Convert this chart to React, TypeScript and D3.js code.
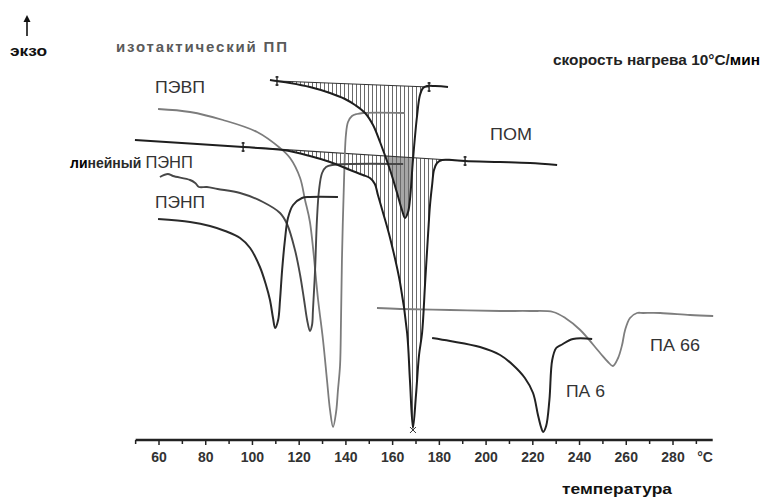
import React from 'react';
import * as d3 from 'd3';

const W = 762;
const H = 497;

type Pt = [number, number]; // [temperature °C, heat flow a.u.]

// DSC melting curves, heating rate 10 °C/min
const hdpe: Pt[] = [
  [59.6, 331], [73.3, 328], [87.4, 320], [102.0, 308], [111.8, 292], [116.1, 282],
  [120.4, 262], [122.5, 240], [124.6, 218], [128.1, 140], [130.2, 100], [131.9, 60],
  [133.2, 30], [134.5, 13], [135.8, 28], [136.6, 50], [137.5, 75], [137.9, 120],
  [138.3, 180], [139.2, 260], [140.0, 305], [140.9, 318], [142.6, 324], [144.8, 326],
  [147.3, 327], [165.3, 327],
];

const ldpe: Pt[] = [
  [59.6, 221], [73.3, 218], [81.8, 214], [88.3, 209], [94.7, 202], [99.0, 192],
  [103.2, 173], [105.8, 155], [107.5, 140], [108.8, 122], [109.7, 112], [111.0, 120],
  [111.8, 140], [112.7, 170], [113.9, 200], [115.2, 222], [117.4, 235], [121.2, 242],
  [124.6, 243], [136.6, 243],
];

const lldpe: Pt[] = [
  [60.4, 263], [63.8, 266], [66.0, 264], [73.3, 260], [75.5, 257], [77.1, 253],
  [80.5, 253], [85.1, 251], [94.7, 247], [104.5, 238], [111.8, 227], [114.8, 216],
  [118.2, 190], [120.4, 165], [122.1, 140], [123.4, 120], [124.6, 109], [125.5, 115],
  [125.9, 130], [126.8, 170], [127.6, 220], [128.5, 250], [129.8, 267], [131.5, 273],
  [134.1, 275], [164.5, 276],
];

const ipp: Pt[] = [
  [107.5, 360], [110.5, 359], [116.1, 357], [124.6, 353], [133.2, 347], [139.6, 341],
  [143.9, 335], [148.2, 327], [151.6, 315], [154.6, 298], [158.9, 270], [161.9, 247],
  [164.0, 230], [165.3, 222], [166.6, 228], [167.4, 240], [168.7, 280], [170.4, 323],
  [171.7, 345], [173.0, 352], [174.7, 354], [178.2, 354], [183.7, 353],
];

const pom: Pt[] = [
  [49.7, 300], [96.0, 293], [113.1, 290], [124.6, 284], [133.2, 278], [141.8, 270],
  [147.3, 265], [150.3, 262], [152.4, 256], [153.7, 245], [155.8, 228], [158.9, 202],
  [163.2, 157], [166.2, 107], [167.4, 60], [168.7, 12], [170.0, 45], [171.3, 85],
  [172.6, 107], [173.9, 157], [175.2, 207], [176.0, 235], [176.9, 255], [177.7, 270],
  [179.0, 277], [181.2, 280], [185.4, 280], [191.0, 279], [206.0, 278], [218.8, 277],
  [230.4, 275],
];

const pa66: Pt[] = [
  [153.3, 132], [163.2, 131], [184.6, 130], [206.0, 129], [218.8, 129], [228.7, 128],
  [233.9, 122], [240.3, 110], [248.8, 87], [252.2, 78], [254.3, 74], [256.5, 82],
  [258.2, 95], [259.5, 110], [261.6, 122], [264.6, 127], [267.2, 127], [274.5, 127],
  [287.3, 125], [297.2, 124],
];

const pa6: Pt[] = [
  [176.9, 102], [184.6, 99], [197.4, 93], [206.0, 85], [211.5, 75], [216.6, 62],
  [220.1, 47], [222.2, 25], [223.5, 13], [224.4, 8], [225.7, 14], [227.1, 40],
  [228.3, 80], [230.0, 92], [232.1, 95], [237.2, 101], [245.4, 101],
];

// Integration baselines (between the boundary markers)
const ippBaseline: Pt[] = [[110.5, 359], [175.6, 353]];
const pomBaseline: Pt[] = [[96.0, 293], [191.0, 279]];
const pomPeak: Pt = [168.7, 12];

const majorTicks = d3.range(60, 281, 20);
const minorTicks = d3.range(50, 296, 10);

const x = d3.scaleLinear().domain([60, 280]).range([159, 673]);
const y = d3.scaleLinear().domain([0, 440]).range([440, 0]);

const line = d3
  .line<Pt>()
  .x((d) => x(d[0]))
  .y((d) => y(d[1]))
  .curve(d3.curveCatmullRom.alpha(0.5));

const straight = d3
  .line<Pt>()
  .x((d) => x(d[0]))
  .y((d) => y(d[1]));

function valueAt(data: Pt[], t: number): number {
  for (let i = 0; i < data.length - 1; i++) {
    const [t0, v0] = data[i];
    const [t1, v1] = data[i + 1];
    if (t >= t0 && t <= t1) return v0 + ((t - t0) / (t1 - t0)) * (v1 - v0);
  }
  return data[data.length - 1][1];
}

// closed region between a curve and its straight baseline
function peakArea(data: Pt[], base: Pt[]): string {
  const [a, b] = [base[0][0], base[1][0]];
  const pts: Pt[] = [[a, valueAt(data, a)]];
  data.forEach((d) => {
    if (d[0] > a && d[0] < b) pts.push(d);
  });
  pts.push([b, valueAt(data, b)]);
  return (
    line(pts) +
    `L${x(base[1][0])},${y(base[1][1])}L${x(base[0][0])},${y(base[0][1])}Z`
  );
}

const FONT = "'Liberation Sans', Arial, Helvetica, sans-serif";

function Marker({ t, v }: { t: number; v: number }) {
  const cx = x(t);
  const cy = y(v);
  return (
    <g stroke="#222" strokeWidth={1.4}>
      <line x1={cx} x2={cx} y1={cy - 5} y2={cy + 5} />
      <line x1={cx - 1.5} x2={cx + 1.5} y1={cy - 4} y2={cy - 4} />
      <line x1={cx - 1.5} x2={cx + 1.5} y1={cy + 4} y2={cy + 4} />
    </g>
  );
}

export default function App() {
  const ppArea = peakArea(ipp, ippBaseline);
  const pomArea = peakArea(pom, pomBaseline);
  const axisY = y(0);
  const xStart = x(50);
  const xEnd = x(297);

  return (
    <svg
      width={W}
      height={H}
      viewBox={`0 0 ${W} ${H}`}
      style={{ position: 'absolute', left: 0, top: 0, background: '#fff' }}
      fontFamily={FONT}
    >
      <defs>
        <pattern id="hatch" width={4} height={4} patternUnits="userSpaceOnUse">
          <line x1={0.5} x2={0.5} y1={0} y2={4} stroke="#6a6a6a" strokeWidth={1} />
        </pattern>
        <clipPath id="pomClip">
          <path d={pomArea} />
        </clipPath>
      </defs>

      {/* hatched melting areas; the overlap of both peaks is shaded */}
      <path d={ppArea} fill="#a6a6a6" clipPath="url(#pomClip)" />
      <path d={pomArea} fill="url(#hatch)" />
      <path d={ppArea} fill="url(#hatch)" />

      {/* baselines */}
      <path d={straight(ippBaseline) ?? ''} fill="none" stroke="#333" strokeWidth={1.2} />
      <path d={straight(pomBaseline) ?? ''} fill="none" stroke="#333" strokeWidth={1.2} />

      {/* curves */}
      <path d={line(hdpe) ?? ''} fill="none" stroke="#7c7c7c" strokeWidth={1.8} />
      <path d={line(lldpe) ?? ''} fill="none" stroke="#474747" strokeWidth={1.9} />
      <path d={line(ldpe) ?? ''} fill="none" stroke="#2a2a2a" strokeWidth={2} />
      <path d={line(pa66) ?? ''} fill="none" stroke="#7e7e7e" strokeWidth={1.8} />
      <path d={line(pa6) ?? ''} fill="none" stroke="#222" strokeWidth={2} />
      <path d={line(pom) ?? ''} fill="none" stroke="#1e1e1e" strokeWidth={2} />
      <path d={line(ipp) ?? ''} fill="none" stroke="#1e1e1e" strokeWidth={2} />

      {/* boundary markers */}
      {ippBaseline.map((d, i) => (
        <Marker key={`pp${i}`} t={d[0]} v={d[1]} />
      ))}
      {pomBaseline.map((d, i) => (
        <Marker key={`pom${i}`} t={d[0]} v={d[1]} />
      ))}
      <g stroke="#333" strokeWidth={1}>
        <line x1={x(pomPeak[0]) - 3} x2={x(pomPeak[0]) + 3} y1={y(pomPeak[1]) - 1} y2={y(pomPeak[1]) + 5} />
        <line x1={x(pomPeak[0]) - 3} x2={x(pomPeak[0]) + 3} y1={y(pomPeak[1]) + 5} y2={y(pomPeak[1]) - 1} />
      </g>

      {/* temperature axis */}
      <line x1={xStart} x2={xEnd} y1={axisY} y2={axisY} stroke="#222" strokeWidth={2.4} />
      {minorTicks.map((t) => (
        <line
          key={`m${t}`}
          x1={x(t)}
          x2={x(t)}
          y1={axisY}
          y2={axisY + (t % 20 === 0 ? 5 : 4)}
          stroke="#222"
          strokeWidth={1.5}
        />
      ))}
      {majorTicks.map((t) => (
        <text
          key={`l${t}`}
          x={x(t)}
          y={462}
          textAnchor="middle"
          fontSize={14}
          fontWeight="bold"
          fill="#333"
        >
          {t}
        </text>
      ))}
      <text x={705} y={462} textAnchor="middle" fontSize={14} fontWeight="bold" fill="#333">
        °C
      </text>
      <text x={562} y={494} fontSize={15} fontWeight="bold" fill="#111" textLength={110} lengthAdjust="spacingAndGlyphs">
        температура
      </text>

      {/* exo arrow */}
      <line x1={27} x2={27} y1={19} y2={36} stroke="#111" strokeWidth={1.6} />
      <path d="M23.5,22 L27,15 L30.5,22 Z" fill="#111" />
      <text x={10} y={56} fontSize={14} fontWeight="bold" fill="#111" textLength={37} lengthAdjust="spacingAndGlyphs">
        экзо
      </text>

      {/* curve labels */}
      <text x={116} y={52} fontSize={15} fontWeight="bold" fill="#5a5a5a" textLength={171} lengthAdjust="spacing">
        изотактический ПП
      </text>
      <text x={155} y={93} fontSize={16.5} fill="#333" textLength={50} lengthAdjust="spacingAndGlyphs">
        ПЭВП
      </text>
      <text x={70} y={168} fill="#222">
        <tspan fontSize={14} fontWeight="bold" fill="#000">ли</tspan>
        <tspan fontSize={14} fontWeight="bold" fill="#2a2a2a">нейный</tspan>
        <tspan fontSize={16.5} fill="#333" dx={4}>ПЭНП</tspan>
      </text>
      <text x={155} y={208} fontSize={16.5} fill="#333" textLength={50} lengthAdjust="spacingAndGlyphs">
        ПЭНП
      </text>
      <text x={490} y={140} fontSize={16.5} fill="#333" textLength={42} lengthAdjust="spacingAndGlyphs">
        ПОМ
      </text>
      <text x={650} y={351} fontSize={16.5} fill="#333" textLength={50} lengthAdjust="spacingAndGlyphs">
        ПА 66
      </text>
      <text x={566} y={397} fontSize={16.5} fill="#333" textLength={39} lengthAdjust="spacingAndGlyphs">
        ПА 6
      </text>
      <text x={553} y={65} fontSize={15} fill="#222" fontWeight={600} textLength={207} lengthAdjust="spacingAndGlyphs">
        <tspan>скорость нагрева 10°C/</tspan>
        <tspan fontWeight="bold" fill="#000">мин</tspan>
      </text>
    </svg>
  );
}
